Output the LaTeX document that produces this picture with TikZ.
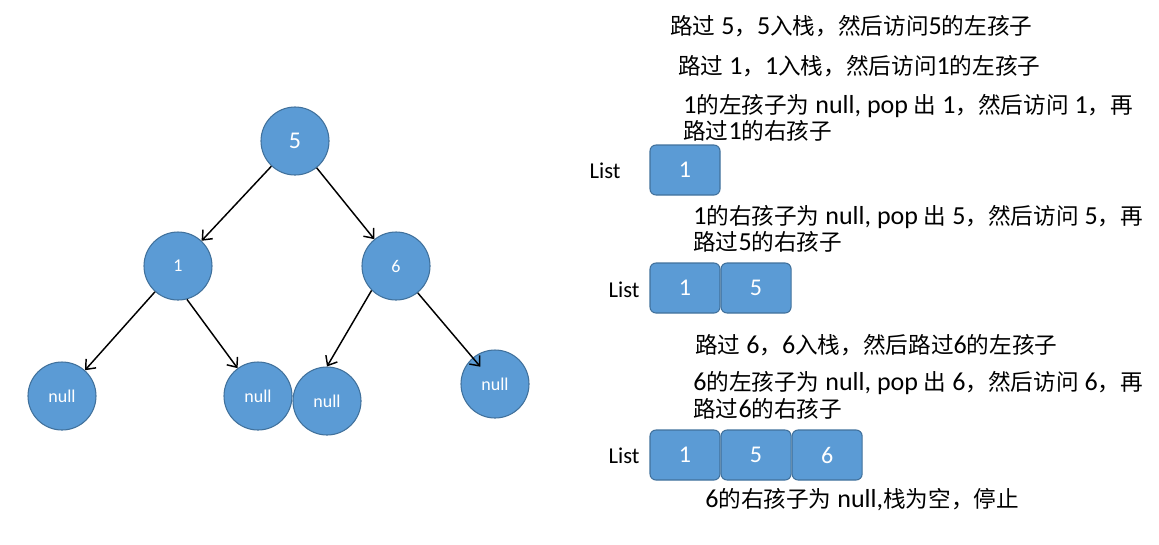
\documentclass[tikz,border=0pt]{standalone}
\usepackage{fontspec}
\setmainfont{Carlito}
\newfontfamily\cjk{Noto Sans CJK SC}[Scale=0.87]
\usetikzlibrary{arrows.meta,positioning}

\definecolor{nodeblue}{HTML}{5B9BD5}
\definecolor{nodeedge}{HTML}{41719C}

\newcommand{\zh}[1]{{\cjk #1}}

\tikzset{
  treenode/.style={circle,fill=nodeblue,draw=nodeedge,line width=0.8pt,
    minimum size=51pt,inner sep=0pt,text=white,font=\fontsize{13.5}{14}\selectfont},
  nullnode/.style={treenode,font=\fontsize{13.5}{14}\selectfont},
  stackbox/.style={rectangle,rounded corners=4.5pt,fill=nodeblue,draw=nodeedge,
    line width=0.8pt,minimum width=52.5pt,minimum height=37.5pt,text=white,
    font=\fontsize{18}{18}\selectfont},
  stepline/.style={anchor=base west,inner sep=0pt,font=\fontsize{19.5}{19.5}\selectfont},
  listlabel/.style={inner sep=0pt,font=\fontsize{17}{17}\selectfont},
  childedge/.style={-{Straight Barb[length=6pt,width=10pt]},line width=1.1pt}
}

\begin{document}
\begin{tikzpicture}[x=0.75pt,y=-0.75pt]
    \useasboundingbox (0,0) rectangle (1159,544);

    % Binary tree
    \node[treenode,font=\fontsize{18}{18}\selectfont] (r5) at (295,141) {5};
    \node[treenode] (c1) at (178,266) {1};
    \node[treenode] (c6) at (396,266) {6};
    \node[nullnode] (n1) at (62,396) {null};
    \node[nullnode] (n2) at (258,396) {null};
    \node[nullnode] (n3) at (327,401) {null};
    \node[nullnode] (n4) at (495,384) {null};

    % Child links
    \draw[childedge] (r5) -- (c1);
    \draw[childedge] (r5) -- (c6);
    \draw[childedge] (c1) -- (n1);
    \draw[childedge] (c1.-75) -- (n2);
    \draw[childedge] (c6.225) -- (n3.north);
    \draw[childedge,shorten >=17pt] (c6.-51) -- (n4.center);

    % Traversal steps
    \node[stepline] (t1) at (670,34) {\zh{路过} 5\zh{，}5\zh{入栈，然后访问}5\zh{的左孩子}};
    \node[stepline] (t2) at (678,74) {\zh{路过} 1\zh{，}1\zh{入栈，然后访问}1\zh{的左孩子}};
    \node[stepline] (t3a) at (683,113) {1\zh{的左孩子为} null, pop \zh{出} 1\zh{，然后访问} 1\zh{，再}};
    \node[stepline] (t3b) at (683,139) {\zh{路过}1\zh{的右孩子}};
    \node[stepline] (t4a) at (693,224) {1\zh{的右孩子为} null, pop \zh{出} 5\zh{，然后访问} 5\zh{，再}};
    \node[stepline] (t4b) at (693,250) {\zh{路过}5\zh{的右孩子}};
    \node[stepline] (t5) at (695,353) {\zh{路过} 6\zh{，}6\zh{入栈，然后路过}6\zh{的左孩子}};
    \node[stepline] (t6a) at (693,390) {6\zh{的左孩子为} null, pop \zh{出} 6\zh{，然后访问} 6\zh{，再}};
    \node[stepline] (t6b) at (693,417) {\zh{路过}6\zh{的右孩子}};
    \node[stepline] (t7) at (705,507) {6\zh{的右孩子为} null,\zh{栈为空，停止}};

    % Stack contents
    \node[listlabel] (lst1) at (605,171) {List};
    \node[stackbox] (s1a) at (685,170) {1};

    \node[listlabel] (lst2) at (624,290) {List};
    \node[stackbox] (s2a) at (685,288) {1};
    \node[stackbox,right=0pt of s2a] (s2b) {5};

    \node[listlabel] (lst3) at (624,456) {List};
    \node[stackbox] (s3a) at (685,455) {1};
    \node[stackbox,right=0pt of s3a] (s3b) {5};
    \node[stackbox,right=0pt of s3b] (s3c) {6};
\end{tikzpicture}
\end{document}
